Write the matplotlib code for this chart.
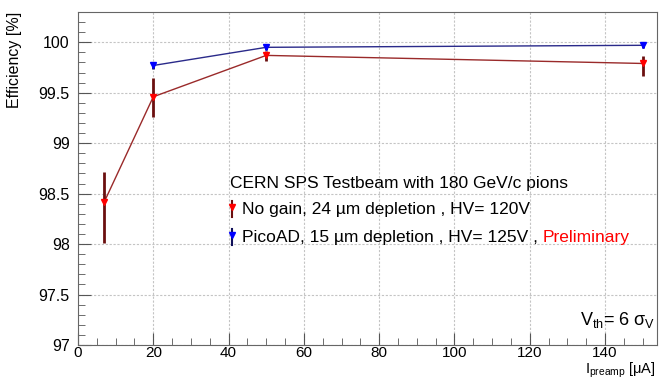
import matplotlib
matplotlib.use("Agg")
import matplotlib.pyplot as plt
from matplotlib.ticker import MultipleLocator
import numpy as np

# Data
x_nogain = [7, 20, 50, 150]
y_nogain = [98.42, 99.46, 99.87, 99.79]
err_lo_nogain = [0.41, 0.20, 0.06, 0.12]
err_hi_nogain = [0.29, 0.19, 0.04, 0.07]

x_pico = [20, 50, 150]
y_pico = [99.77, 99.95, 99.97]
err_lo_pico = [0.03, 0.03, 0.03]
err_hi_pico = [0.03, 0.02, 0.02]

label_title = "CERN SPS Testbeam with 180 GeV/c pions"
label_nogain = "No gain, 24 µm depletion , HV= 120V"
label_pico = "PicoAD, 15 µm depletion , HV= 125V , "

plt.rcParams['font.family'] = ['Liberation Sans', 'DejaVu Sans']
fig = plt.figure(figsize=(6.59, 3.8), dpi=100)
ax = fig.add_axes([78/659, 1-345/380, (657-78)/659, (345-12)/380])

ax.set_xlim(0, 153.8)
ax.set_ylim(97, 100.3)

ax.grid(True, which='major', color='#c4c4c4', linestyle=(0, (2, 1.5)), linewidth=0.8)
ax.set_axisbelow(True)

ax.plot(x_nogain, y_nogain, color='#9a2a2a', lw=1.0, zorder=3)
ax.errorbar(x_nogain, y_nogain, yerr=[err_lo_nogain, err_hi_nogain], fmt='none',
            ecolor='#6b0f0f', elinewidth=2, capsize=0, zorder=4)
ax.plot(x_nogain, y_nogain, linestyle='none', marker='v', color='red', markersize=5, zorder=5)

ax.plot(x_pico, y_pico, color='#2a2a8a', lw=1.0, zorder=3)
ax.errorbar(x_pico, y_pico, yerr=[err_lo_pico, err_hi_pico], fmt='none',
            ecolor='#10105a', elinewidth=2, capsize=0, zorder=4)
ax.plot(x_pico, y_pico, linestyle='none', marker='v', color='blue', markersize=5, zorder=5)

ax.xaxis.set_major_locator(MultipleLocator(20))
ax.xaxis.set_minor_locator(MultipleLocator(5))
ax.yaxis.set_major_locator(MultipleLocator(0.5))
ax.yaxis.set_minor_locator(MultipleLocator(0.1))
ax.tick_params(which='both', direction='in', top=False, right=False, labelsize=11.5, color='#555555')
ax.tick_params(which='major', length=9)
ax.tick_params(which='minor', length=5)
ax.set_yticks([97, 97.5, 98, 98.5, 99, 99.5, 100])
ax.set_yticklabels(['97', '97.5', '98', '98.5', '99', '99.5', '100'])
for s in ax.spines.values():
    s.set_color('#666666')

ax.tick_params(axis='x', pad=1, labelsize=11)
ax.tick_params(axis='y', pad=6)

fig.text(0.022, 1-12/380, "Efficiency [%]", rotation=90, ha='center', va='top', fontsize=11.5)
fig.text(656/659, 0.0, r"I$_{\mathregular{preamp}}$ [μA]", ha='right', va='bottom', fontsize=10.5)
ax.text(0.997, 0.045, r"V$_{\mathregular{th}}$= 6 σ$_{\mathregular{V}}$", transform=ax.transAxes,
        ha='right', va='bottom', fontsize=13)

# legend
tx = 230/659
fs = 12.5
fig.text(tx, 1-183/380, label_title, ha='left', va='center', fontsize=fs)
fig.text(tx + 12/659, 1-209/380, label_nogain, ha='left', va='center', fontsize=fs)
t = fig.text(tx + 12/659, 1-237/380, label_pico, ha='left', va='center', fontsize=fs)
# marker glyphs for legend
lx = 232/659
for yy, mc, ec in [(209, 'red', '#6b0f0f'), (237, 'blue', '#10105a')]:
    fy = 1-yy/380
    fig.lines.append(plt.Line2D([lx, lx], [fy-8/380, fy+8/380], color=ec, lw=1.5, transform=fig.transFigure))
    fig.lines.append(plt.Line2D([lx], [fy+2/380], marker='v', color=mc, markersize=5, transform=fig.transFigure))

fig.canvas.draw()
bb = t.get_window_extent()
fig.text(bb.x1/fig.bbox.width, 1-237/380, "Preliminary", color='red', ha='left', va='center', fontsize=fs)

fig.savefig("out.png", dpi=100)
